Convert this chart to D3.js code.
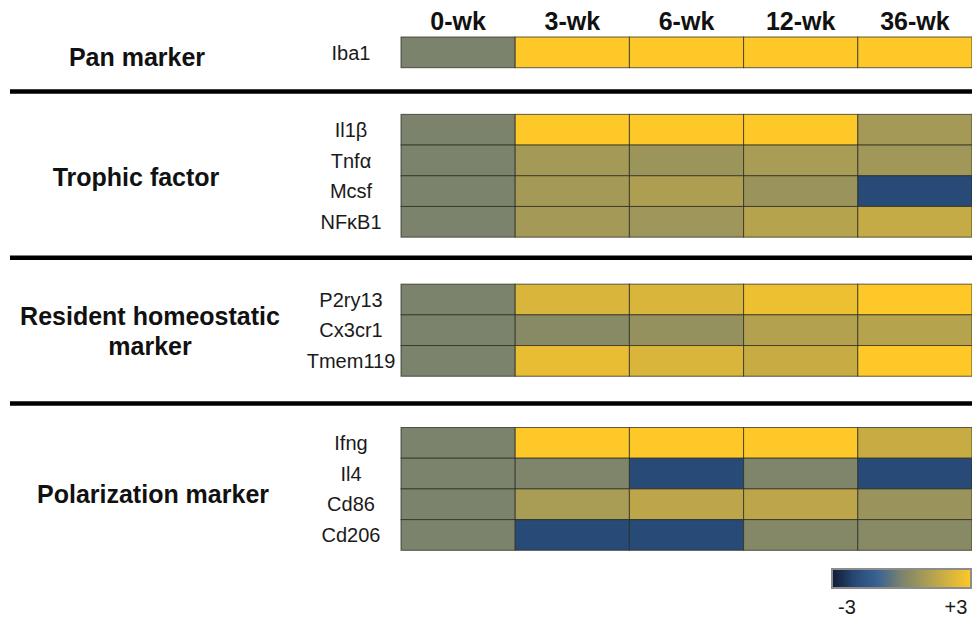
<!DOCTYPE html>
<html>
<head>
<meta charset="utf-8">
<script src="https://cdn.jsdelivr.net/npm/d3@7"></script>
<style>
  html, body { margin: 0; padding: 0; background: #fff; }
  svg { display: block; font-family: "Liberation Sans", Arial, sans-serif; }
</style>
</head>
<body>
<svg id="chart" width="972" height="619"></svg>
<script>
// Time points (columns)
const timepoints = ["0-wk", "3-wk", "6-wk", "12-wk", "36-wk"];

// Marker groups and their genes
const groupNames = ["Pan marker", "Trophic factor", "Resident homeostatic marker", "Polarization marker"];
const panGenes = ["Iba1"];
const trophicGenes = ["Il1β", "Tnfα", "Mcsf", "NFκB1"];
const residentGenes = ["P2ry13", "Cx3cr1", "Tmem119"];
const polarGenes = ["Ifng", "Il4", "Cd86", "Cd206"];

// Relative expression (scale -3 .. +3), one row per gene, one value per time point
const panValues = [
  [0, 3, 3, 3, 3]
];
const trophicValues = [
  [0, 3, 3, 3, 0.95],
  [0, 0.95, 0.75, 1.05, 0.85],
  [0, 0.95, 1.15, 0.7, -2],
  [0, 0.95, 0.8, 1.35, 1.7]
];
const residentValues = [
  [0, 2.15, 2.15, 2.6, 3],
  [0, 0.3, 0.6, 1.3, 1.35],
  [0, 2.5, 2.15, 1.75, 3]
];
const polarValues = [
  [0, 3, 3, 3, 1.75],
  [0, 0.1, -2, 0.1, -2],
  [0, 1.05, 1.5, 1.5, 0.7],
  [0, -2, -2, 0.2, 0.3]
];

// Legend tick labels
const legendLabels = ["-3", "+3"];

const groupGenes = [panGenes, trophicGenes, residentGenes, polarGenes];
const groupValues = [panValues, trophicValues, residentValues, polarValues];

const svg = d3.select("#chart");
const W = 972;

// Row layout in units of one row height, with blank space between groups
const rowH = 30.7;
const top0 = 37;
const gapUnits = [1.52, 1.53, 1.67];
const sepFrac = [0.51, 0.44, 0.53];

let unit = 0;
const groupsLayout = groupNames.map((name, gi) => {
  const start = unit;
  unit += groupGenes[gi].length;
  const end = unit;
  if (gi < groupNames.length - 1) unit += gapUnits[gi];
  return { name, start, end, genes: groupGenes[gi], values: groupValues[gi] };
});

const y = d3.scaleLinear().domain([0, unit]).range([top0, top0 + unit * rowH]);
const x = d3.scaleBand().domain(timepoints).range([401, W]).padding(0);

const color = d3.scaleLinear()
  .domain([-3, -2, -1, 0, 3])
  .range(["#0f1b33", "#284a76", "#3a6393", "#7b836c", "#fec928"])
  .clamp(true);

// Column headers
svg.append("g").selectAll("text")
  .data(timepoints)
  .join("text")
  .attr("x", d => x(d) + x.bandwidth() / 2)
  .attr("y", 30)
  .attr("text-anchor", "middle")
  .attr("font-weight", "bold")
  .attr("font-size", 25)
  .attr("fill", "#111")
  .text(d => d);

// Group label placement (centre x, vertical nudge)
const labelPos = {
  "Pan marker": [137, 5],
  "Trophic factor": [136, 1],
  "Resident homeostatic marker": [150, 1],
  "Polarization marker": [153, 5]
};
const labelLines = {
  "Resident homeostatic marker": ["Resident homeostatic", "marker"]
};

groupsLayout.forEach((g, gi) => {
  const gEl = svg.append("g");

  // Heatmap cells
  g.genes.forEach((gene, ri) => {
    const rowY = y(g.start + ri);
    gEl.append("g").selectAll("rect")
      .data(g.values[ri].map((v, ci) => ({ v, t: timepoints[ci] })))
      .join("rect")
      .attr("x", d => x(d.t))
      .attr("y", rowY)
      .attr("width", x.bandwidth())
      .attr("height", rowH)
      .attr("fill", d => color(d.v))
      .attr("stroke", "#2b2b22")
      .attr("stroke-opacity", 0.75)
      .attr("stroke-width", 1);

    // Gene name
    gEl.append("text")
      .attr("x", 351)
      .attr("y", rowY + rowH / 2)
      .attr("dy", "0.36em")
      .attr("text-anchor", "middle")
      .attr("font-size", 20)
      .attr("fill", "#1a1a1a")
      .text(gene);
  });

  // Group label
  const [lx, ly] = labelPos[g.name];
  const lines = labelLines[g.name] || [g.name];
  const cy = (y(g.start) + y(g.end)) / 2 + ly;
  const lineH = 30;
  lines.forEach((ln, li) => {
    gEl.append("text")
      .attr("x", lx)
      .attr("y", cy + (li - (lines.length - 1) / 2) * lineH)
      .attr("dy", "0.36em")
      .attr("text-anchor", "middle")
      .attr("font-weight", "bold")
      .attr("font-size", 25)
      .attr("fill", "#111")
      .text(ln);
  });

  // Separator below group
  if (gi < groupsLayout.length - 1) {
    const next = groupsLayout[gi + 1];
    const sy = y(g.end) + (y(next.start) - y(g.end)) * sepFrac[gi];
    svg.append("line")
      .attr("x1", 10).attr("x2", W)
      .attr("y1", sy).attr("y2", sy)
      .attr("stroke", "#000")
      .attr("stroke-width", 4.5);
  }
});

// Colour legend
const legX0 = 832, legX1 = W - 1, legY = 569, legH = 19;
const defs = svg.append("defs");
const grad = defs.append("linearGradient").attr("id", "legend-grad")
  .attr("x1", "0%").attr("x2", "100%").attr("y1", "0%").attr("y2", "0%");
const legScale = d3.scaleLinear().domain([-3, 3]).range([legX0, legX1]);
d3.range(0, 1.0001, 0.05).forEach(t => {
  grad.append("stop")
    .attr("offset", (t * 100) + "%")
    .attr("stop-color", color(-3 + 6 * t));
});
svg.append("rect")
  .attr("x", legX0).attr("y", legY)
  .attr("width", legX1 - legX0).attr("height", legH)
  .attr("fill", "url(#legend-grad)")
  .attr("stroke", "#8c8c8c")
  .attr("stroke-width", 2);

svg.append("g").selectAll("text")
  .data(legendLabels)
  .join("text")
  .attr("x", d => legScale(+d) + (+d < 0 ? 15 : -15))
  .attr("y", 614)
  .attr("text-anchor", "middle")
  .attr("font-size", 20)
  .attr("fill", "#1a1a1a")
  .text(d => d);
</script>
</body>
</html>
